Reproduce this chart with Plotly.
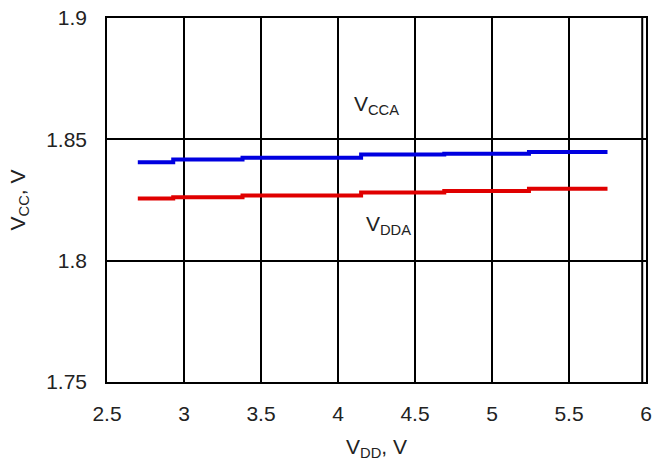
import plotly.graph_objects as go

vdd_steps = [2.7, 2.93, 3.38, 4.15, 4.69, 5.24, 5.75]
vcca = [1.8406, 1.8417, 1.8424, 1.8438, 1.8441, 1.8448, 1.8448]
vdda = [1.8256, 1.8261, 1.8269, 1.8281, 1.8287, 1.8296, 1.8296]

x_ticks = [2.5, 3, 3.5, 4, 4.5, 5, 5.5, 6]
y_ticks = [1.75, 1.8, 1.85, 1.9]

font = dict(family="Liberation Sans, Arial, sans-serif", size=21, color="#222")

fig = go.Figure()
fig.add_trace(go.Scatter(x=vdd_steps, y=vcca, mode="lines", line_shape="hv",
                         line=dict(color="#0000e0", width=4), showlegend=False))
fig.add_trace(go.Scatter(x=vdd_steps, y=vdda, mode="lines", line_shape="hv",
                         line=dict(color="#e00000", width=4), showlegend=False))

fig.add_annotation(x=4.25, y=1.8641, text="V<sub>CCA</sub>", showarrow=False, font=font)
fig.add_annotation(x=4.33, y=1.8145, text="V<sub>DDA</sub>", showarrow=False, font=font)

fig.add_shape(type="line", xref="paper", yref="paper", x0=0.993, y0=0, x1=0.993, y1=1,
              line=dict(color="black", width=2), layer="above")

fig.update_layout(
    width=652, height=461,
    margin=dict(l=107, r=6, t=18, b=79),
    paper_bgcolor="white", plot_bgcolor="white",
    font=font,
    xaxis=dict(range=[2.5, 6], tickvals=x_ticks, ticktext=[f"{v:g}" for v in x_ticks],
               showgrid=True, gridcolor="black", gridwidth=1.5,
               showline=True, linecolor="black", linewidth=1.5, mirror=True,
               zeroline=False, ticks="outside", ticklen=12, tickcolor="rgba(0,0,0,0)",
               automargin=False, ticklabeloverflow="allow",
               title=dict(text="V<sub>DD</sub>, V", standoff=15, font=font)),
    yaxis=dict(range=[1.75, 1.9], tickvals=y_ticks, ticktext=[f"{v:g}" for v in y_ticks],
               showgrid=True, gridcolor="black", gridwidth=1.5,
               showline=True, linecolor="black", linewidth=1.5, mirror=True,
               zeroline=False, ticks="outside", ticklen=14, tickcolor="rgba(0,0,0,0)",
               automargin=False, ticklabeloverflow="allow",
               title=dict(text="V<sub>CC</sub>, V", standoff=15, font=font)),
)

fig.write_html("out.html", config={"displayModeBar": False},
               post_script="document.body.style.margin='0';document.body.style.overflow='hidden';")
